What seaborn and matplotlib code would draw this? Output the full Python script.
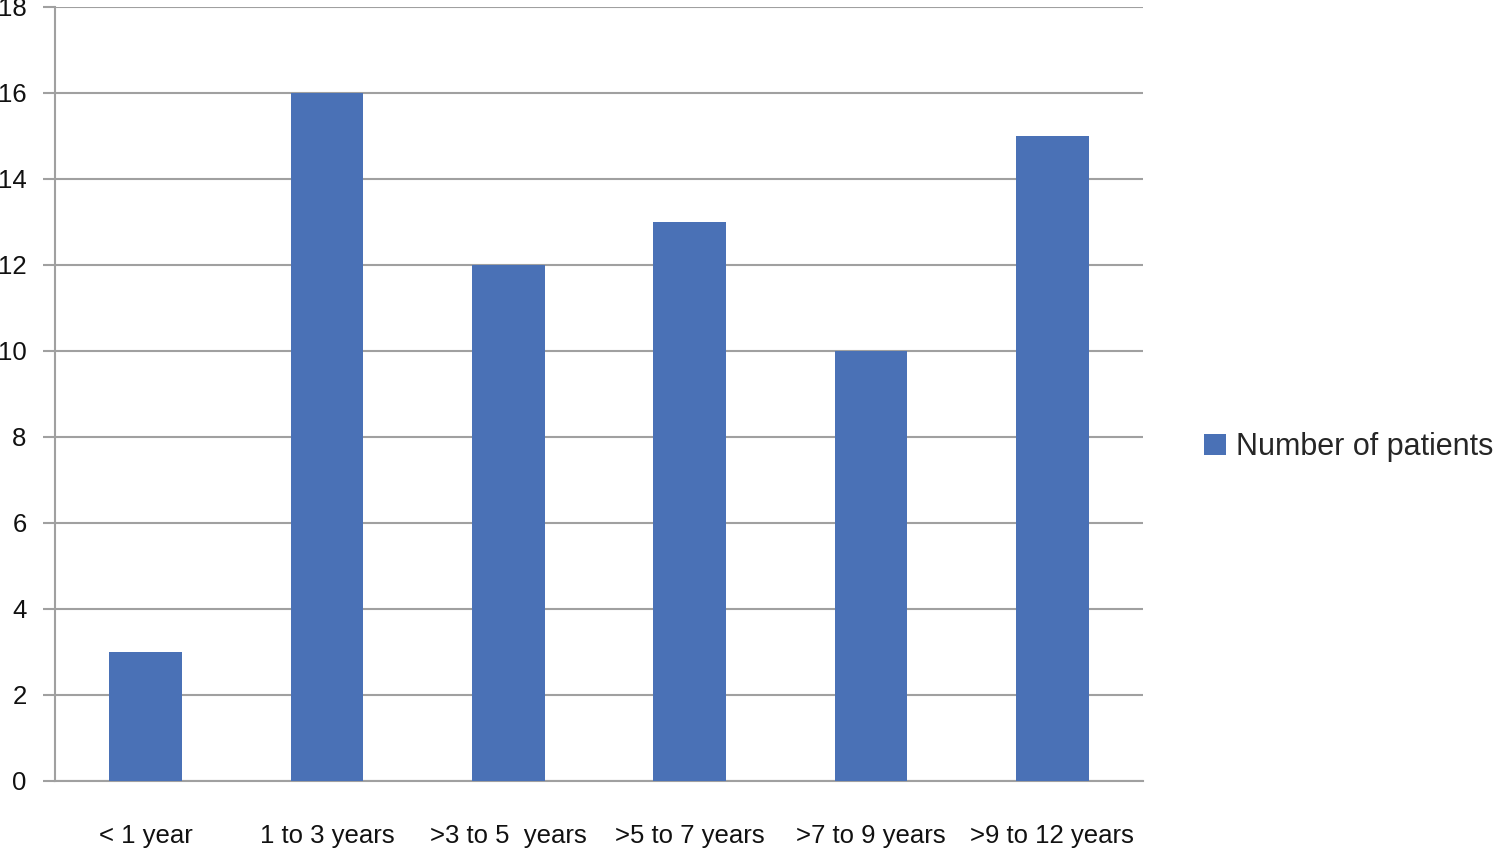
import numpy as np
import pandas as pd
import seaborn as sns
import matplotlib.pyplot as plt
from matplotlib.patches import Patch

# data
age_groups = ["< 1 year", "1 to 3 years", ">3 to 5  years", ">5 to 7 years", ">7 to 9 years", ">9 to 12 years"]
patients = [3, 16, 12, 13, 10, 15]
series_name = "Number of patients"
y_ticks = [0, 2, 4, 6, 8, 10, 12, 14, 16, 18]

bar_color = "#4a71b6"
grid_color = "#a0a0a0"

sns.set_style("white")
plt.rcParams['font.family'] = ['Liberation Sans', 'DejaVu Sans']

df = pd.DataFrame({"age": age_groups, "n": patients})

fig, ax = plt.subplots(figsize=(14.96, 8.49), dpi=100)
fig.subplots_adjust(left=0.0368, right=0.764, bottom=0.0801, top=0.9918)

sns.barplot(data=df, x="age", y="n", color=bar_color, width=0.4, saturation=1,
            linewidth=0, ax=ax, zorder=3)

ax.set_xlim(-0.5, len(age_groups) - 0.5)
ax.set_ylim(0, 18)
ax.set_yticks(y_ticks)
ax.yaxis.grid(True, color=grid_color, linewidth=1.5, zorder=0)
ax.set_axisbelow(True)

ax.set_xlabel("")
ax.set_ylabel("")

for s in ["top", "right"]:
    ax.spines[s].set_visible(False)
for s in ["left", "bottom"]:
    ax.spines[s].set_color(grid_color)
    ax.spines[s].set_linewidth(1.5)

# tick labels centred, tick marks on the category boundaries
ax.set_xticks(np.arange(len(age_groups)))
ax.set_xticklabels(age_groups)
ax.set_xticks(np.arange(-0.5, len(age_groups)), minor=True)
ax.tick_params(axis="x", which="major", length=0, pad=31, labelsize=18.5, labelcolor="#111111")
ax.tick_params(axis="x", which="minor", length=8.5, width=1.5, color=grid_color, direction="out")
ax.tick_params(axis="y", length=8.5, width=1.5, color=grid_color, direction="out", pad=12,
               labelsize=18.5, labelcolor="#111111", left=True)

handles = [Patch(facecolor=bar_color, edgecolor="none", label=series_name)]
fig.legend(handles=handles, loc="center left", bbox_to_anchor=(0.805, 0.473), frameon=False,
           fontsize=22, handlelength=0.7, handleheight=0.7, handletextpad=0.35, borderpad=0,
           borderaxespad=0)

fig.savefig("out.png", dpi=100)
